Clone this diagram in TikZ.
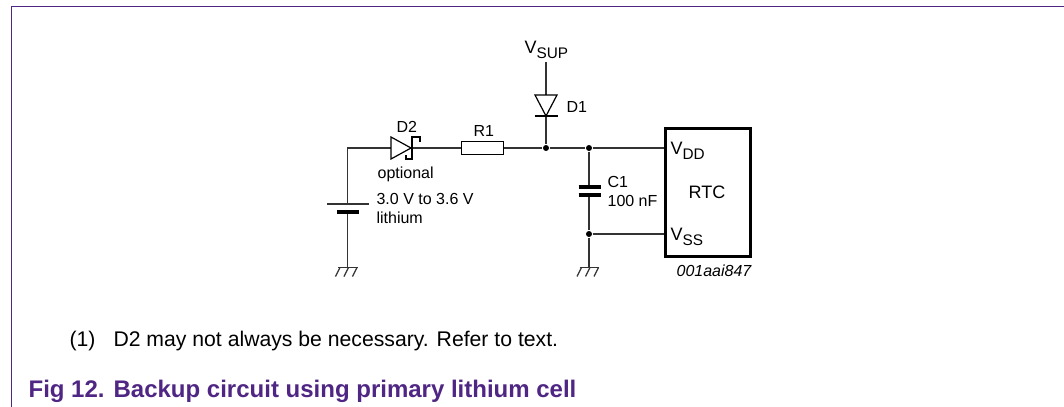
\documentclass[tikz,border=0pt]{standalone}
\usepackage{fontspec}
\setmainfont{Liberation Sans}
\definecolor{nxppurple}{HTML}{4F2683}
\newcommand{\lbltext}{\fontsize{12}{14}\selectfont}
\newcommand{\pintext}[2]{\fontsize{13.5}{16}\selectfont #1\raisebox{-0.55ex}{\fontsize{11.5}{14}\selectfont #2}}

\begin{document}
\begin{tikzpicture}[x=0.75pt, y=-0.75pt, line width=0.9pt, wire/.style={draw=black!80},
    lbl/.style={anchor=base west, inner sep=0, font=\lbltext},
    dot/.style={circle, fill=black, inner sep=0, minimum size=4.5pt},
    plate/.style={line width=2.4pt}]
      \useasboundingbox (0, 0) rectangle (1064, 407);
      \draw[nxppurple, line width=1pt] (1064, 6.5) -- (11.5, 6.5) -- (11.5, 407);

      \coordinate (corner) at (347.5, 148);
      \coordinate (supply) at (546, 62);
      \coordinate (gndbat) at (347.5, 267.5);
      \coordinate (gndcap) at (589, 267.5);
      \coordinate (batthin) at (347.5, 204);
      \coordinate (batthick) at (347.5, 212);
      \coordinate (capa) at (589, 187);
      \coordinate (capb) at (589, 195);
      \coordinate (d2in) at (391, 148);
      \coordinate (d2out) at (412, 148);
      \coordinate (d1in) at (546, 95);
      \coordinate (d1out) at (546, 116);
      \node[dot] (top) at (546, 148) {};
      \node[dot] (capt) at (589, 148) {};
      \node[dot] (capg) at (589, 234) {};
      \node[draw, line width=2pt, minimum width=64pt, minimum height=96pt, inner sep=0, anchor=north west] (rtc) at (664, 127) {};
      \node[draw, line width=0.9pt, minimum width=32pt, minimum height=9.5pt, inner sep=0] (r1) at (482.5, 148) {};
      \coordinate (pindd) at (rtc.west |- top);
      \coordinate (pinss) at (rtc.west |- capg);

      % wires
      \draw[wire] (batthin) -- (corner) -- (d2in) (d2out) -- (r1) (r1) -- (top) -- (capt) -- (pindd);
      \draw[wire] (supply) -- (d1in) (d1out) -- (top);
      \draw[wire] (capt) -- (capa) (capb) -- (capg) -- (gndcap) (capg) -- (pinss);
      \draw[wire] (batthick) -- (gndbat);

      % battery and capacitor
      \draw[wire] (batthin) ++(-20.5, 0) -- ++(42, 0);
      \draw[plate] (batthick) ++(-10.5, 0) -- ++(22, 0);
      \draw[plate] (capa) ++(-10.5, 0) -- ++(22, 0) (capb) ++(-10.5, 0) -- ++(22, 0);

      % diodes
      \draw (d2in) ++(0, -11) -- ++(20, 11) -- ++(-20, 11) -- cycle;
      \draw[line width=1.5pt] (d2out) ++(7.5, -6) -- ++(0, -5) -- ++(-7.5, 0) -- ++(0, 22) -- ++(-6.5, 0) -- ++(0, -4);
      \draw (d1in) ++(-11, 0) -- ++(22, 0) -- ++(-11, 21) -- cycle;
      \draw[line width=1.5pt] (d1out) ++(-11.5, 0) -- ++(23, 0);

      % grounds
      \foreach \gnd in {gndbat, gndcap} {
        \draw[wire] (\gnd) ++(-9.5, 0) -- ++(19.5, 0);
        \foreach \dx in {-7.5, 1, 9.5}
          \draw[wire] (\gnd) ++(\dx, 0) -- ++(-4.5, 9);
      }

      \node[lbl] (vsup) at (524, 53) {\pintext{V}{SUP}};
      \node[lbl] (d1lbl) at (566, 112) {D1};
      \node[lbl] (d2lbl) at (396, 132) {D2};
      \node[lbl] (r1lbl) at (473, 136) {R1};
      \node[lbl] (optlbl) at (377, 178) {optional};
      \node[lbl] (batlbl) at (376, 204) {3.0 V to 3.6 V};
      \node[lbl] (lithlbl) at (376, 223) {lithium};
      \node[lbl] (c1lbl) at (607, 187) {C1};
      \node[lbl] (c1val) at (607, 206) {100 nF};
      \node[lbl] (vddlbl) at (670, 154) {\pintext{V}{DD}};
      \node[lbl] (vsslbl) at (670, 240) {\pintext{V}{SS}};
      \node[lbl, font=\fontsize{13.5}{16}\selectfont] (rtclbl) at (688, 198) {RTC};
      \node[lbl, font=\lbltext\itshape] (codelbl) at (676, 276) {001aai847};
      \node[lbl, font=\fontsize{15.9}{18}\selectfont] (note) at (69, 346) {(1)\hspace{13.5pt}D2 may not always be necessary. Refer to text.};
      \node[lbl, text=nxppurple, font=\fontsize{18}{20}\selectfont\bfseries] (caption) at (28, 397) {Fig 12.\hspace{6.75pt}Backup circuit using primary lithium cell};
    \end{tikzpicture}
\end{document}
